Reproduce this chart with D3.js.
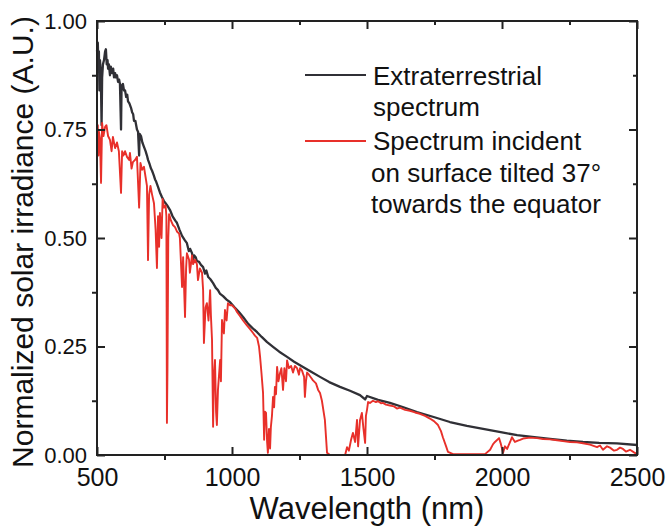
<!DOCTYPE html>
<meta charset="utf-8">
<style>
body { margin: 0; background: #fff; font-family: "Liberation Sans", Arial, sans-serif; }
path.line { fill: none; stroke-width: 2; stroke-linejoin: round; }
path.extra { stroke: #303036; stroke-width: 2.3; }
path.tilt { stroke: #e8302a; stroke-width: 1.9; }
.axis path { display: none; }
.axis line { stroke: #222; stroke-width: 2; }
.axis text { fill: #111; font-family: "Liberation Sans", Arial, sans-serif; }
.frame { fill: none; stroke: #222; stroke-width: 2; }
.title, .legend text { fill: #111; }
</style>
<body>
<script src="https://d3js.org/d3.v7.min.js"></script>
<script>
// Set the dimensions of the canvas / graph
var margin = {top: 21, right: 30, bottom: 73, left: 97},
    width = 667 - margin.left - margin.right,
    height = 528 - margin.top - margin.bottom;

// tick values
var xMajor = [500, 1000, 1500, 2000, 2500];
var xMinor = [750, 1250, 1750, 2250];
var yMajor = [0, 0.25, 0.5, 0.75, 1.0];
var yMinor = [0.125, 0.375, 0.625, 0.875];

// legend labels
var legendExtra = ["Extraterrestrial", "spectrum"];
var legendTilt = ["Spectrum incident", "on surface tilted 37°", "towards the equator"];

// extraterrestrial spectrum [wavelength nm, normalized irradiance]
var extraterrestrial = [
  [500,0.93],[503,0.95],[505,0.90],[507,0.93],[509,0.84],[511,0.91],[514,0.88],[517,0.76],
  [519,0.87],[522,0.90],[526,0.91],[530,0.93],[533,0.935],[536,0.90],[539,0.91],[541,0.89],
  [544,0.90],[548,0.875],[551,0.895],[556,0.88],[560,0.89],[563,0.87],[567,0.88],[570,0.87],
  [574,0.875],[578,0.86],[582,0.865],[585,0.855],[589,0.75],[591,0.85],[596,0.855],[600,0.84],
  [604,0.84],[608,0.825],[612,0.83],[615,0.815],[620,0.81],[626,0.80],[630,0.79],[634,0.785],
  [637,0.77],[642,0.77],[648,0.75],[652,0.745],[656,0.69],[658,0.74],[663,0.735],[668,0.72],
  [674,0.71],[680,0.70],[685,0.69],[689,0.68],[695,0.67],[700,0.66],[704,0.655],[710,0.645],
  [715,0.635],[719,0.63],[726,0.618],[733,0.605],[740,0.595],[748,0.585],[754,0.58],[760,0.575],
  [770,0.565],[780,0.55],[790,0.54],[796,0.535],[805,0.52],[815,0.505],[825,0.495],[833,0.488],
  [840,0.47],[845,0.475],[852,0.465],[856,0.45],[860,0.46],[866,0.455],[870,0.447],[878,0.445],
  [885,0.438],[893,0.433],[900,0.418],[905,0.425],[912,0.41],[920,0.405],[930,0.396],[940,0.385],
  [948,0.38],[955,0.372],[967,0.366],[980,0.358],[993,0.352],[1010,0.34],[1025,0.33],[1041,0.318],
  [1060,0.302],[1075,0.293],[1093,0.283],[1110,0.272],[1130,0.26],[1152,0.249],[1175,0.238],
  [1204,0.226],[1230,0.215],[1263,0.203],[1290,0.193],[1326,0.18],[1360,0.168],[1400,0.157],
  [1437,0.148],[1474,0.138],[1493,0.128],[1500,0.136],[1541,0.127],[1585,0.12],[1635,0.11],
  [1685,0.099],[1750,0.087],[1807,0.076],[1870,0.067],[1930,0.06],[2000,0.052],[2056,0.046],
  [2120,0.041],[2178,0.037],[2240,0.033],[2300,0.030],[2360,0.028],[2426,0.027],[2500,0.023]
];

// spectrum on surface tilted 37 degrees towards the equator
var tilted = [
  [500,0.70],[503,0.76],[505,0.69],[507,0.745],[511,0.73],[515,0.627],[519,0.765],[524,0.735],
  [530,0.756],[535,0.76],[541,0.735],[548,0.726],[554,0.70],[559,0.733],[567,0.707],[574,0.72],
  [581,0.70],[589,0.604],[593,0.70],[598,0.69],[604,0.70],[611,0.687],[619,0.68],[622,0.696],
  [628,0.66],[633,0.675],[641,0.68],[648,0.687],[656,0.57],[661,0.673],[667,0.657],[674,0.664],
  [680,0.64],[685,0.62],[689,0.449],[693,0.60],[698,0.62],[704,0.60],[711,0.58],[717,0.52],
  [722,0.431],[726,0.55],[730,0.48],[733,0.558],[739,0.50],[743,0.59],[748,0.57],[754,0.575],
  [757,0.55],[759,0.074],[761,0.20],[764,0.50],[767,0.555],[774,0.54],[781,0.53],[789,0.525],
  [796,0.515],[804,0.51],[807,0.50],[815,0.387],[819,0.456],[826,0.318],[830,0.43],[833,0.465],
  [841,0.45],[844,0.42],[852,0.46],[856,0.44],[863,0.45],[870,0.44],[874,0.403],[881,0.43],
  [889,0.42],[893,0.38],[896,0.258],[902,0.34],[907,0.35],[913,0.31],[919,0.38],[922,0.32],
  [926,0.265],[930,0.065],[933,0.18],[937,0.219],[941,0.10],[944,0.069],[948,0.15],[956,0.219],
  [959,0.17],[963,0.311],[970,0.28],[974,0.334],[980,0.31],[985,0.35],[993,0.345],[1000,0.345],
  [1011,0.338],[1019,0.329],[1030,0.32],[1041,0.31],[1056,0.298],[1067,0.29],[1078,0.281],
  [1085,0.275],[1093,0.27],[1100,0.25],[1104,0.226],[1109,0.19],[1115,0.143],[1119,0.035],
  [1122,0.10],[1126,0.097],[1130,0.03],[1133,0.005],[1137,0.06],[1141,0.015],[1144,0.065],
  [1148,0.09],[1152,0.134],[1156,0.11],[1159,0.157],[1163,0.14],[1167,0.203],[1172,0.17],
  [1178,0.189],[1183,0.20],[1189,0.15],[1194,0.20],[1200,0.17],[1204,0.218],[1211,0.20],
  [1219,0.205],[1226,0.19],[1233,0.205],[1241,0.20],[1248,0.185],[1252,0.20],[1259,0.195],
  [1267,0.18],[1270,0.134],[1274,0.17],[1278,0.19],[1285,0.185],[1293,0.178],[1300,0.172],
  [1311,0.165],[1319,0.15],[1326,0.143],[1333,0.125],[1344,0.081],[1352,0.005],[1363,0],
  [1419,0],[1426,0.018],[1433,0.01],[1441,0.035],[1448,0.051],[1456,0.03],[1463,0.081],
  [1467,0.02],[1474,0.08],[1481,0.097],[1487,0.06],[1493,0.028],[1496,0.09],[1500,0.104],
  [1504,0.122],[1511,0.12],[1522,0.125],[1533,0.122],[1541,0.124],[1552,0.119],[1559,0.12],
  [1570,0.116],[1585,0.114],[1600,0.112],[1611,0.107],[1622,0.109],[1641,0.104],[1659,0.102],
  [1678,0.098],[1696,0.095],[1715,0.09],[1733,0.084],[1748,0.078],[1763,0.069],[1774,0.055],
  [1781,0.041],[1793,0.02],[1800,0.007],[1819,0.002],[1937,0.002],[1956,0.012],[1967,0.025],
  [1974,0.030],[1989,0.039],[1996,0.025],[2004,0.005],[2011,0.02],[2019,0.014],[2030,0.03],
  [2037,0.041],[2048,0.030],[2059,0.033],[2067,0.035],[2078,0.038],[2104,0.040],[2130,0.039],
  [2152,0.037],[2178,0.036],[2204,0.034],[2226,0.032],[2252,0.030],[2278,0.029],[2300,0.027],
  [2326,0.024],[2352,0.018],[2363,0.022],[2374,0.012],[2389,0.02],[2400,0.017],[2415,0.01],
  [2426,0.012],[2437,0.017],[2448,0.014],[2459,0.008],[2474,0.012],[2489,0.006],[2500,0.002]
];

// Set the ranges
var x = d3.scaleLinear().domain([500, 2500]).range([0, width]);
var y = d3.scaleLinear().domain([0, 1]).range([height, 0]);

var valueline = d3.line()
    .x(function(d) { return x(d[0]); })
    .y(function(d) { return y(d[1]); });

var svg = d3.select("body")
    .append("svg")
        .attr("width", width + margin.left + margin.right)
        .attr("height", height + margin.top + margin.bottom)
    .append("g")
        .attr("transform", "translate(" + margin.left + "," + margin.top + ")");

// the lines
svg.append("path")
    .attr("class", "line extra")
    .attr("d", valueline(extraterrestrial));

svg.append("path")
    .attr("class", "line tilt")
    .attr("d", valueline(tilted));

// axes: major ticks inward, minor ticks outward on bottom/left
svg.append("g")
    .attr("class", "x axis")
    .attr("transform", "translate(0," + height + ")")
    .call(d3.axisBottom(x).tickValues(xMajor).tickSizeInner(-8).tickSizeOuter(0)
        .tickPadding(13).tickFormat(d3.format("d")))
    .selectAll("text").style("font-size", "25px");

svg.append("g")
    .attr("class", "x axis")
    .attr("transform", "translate(0," + height + ")")
    .call(d3.axisBottom(x).tickValues(xMinor).tickSize(5).tickFormat(""));

svg.append("g")
    .attr("class", "x axis")
    .call(d3.axisTop(x).tickValues(xMajor).tickSize(-8).tickFormat(""));

svg.append("g")
    .attr("class", "x axis")
    .call(d3.axisTop(x).tickValues(xMinor).tickSize(-4).tickFormat(""));

svg.append("g")
    .attr("class", "y axis")
    .call(d3.axisLeft(y).tickValues(yMajor).tickSizeInner(-8).tickSizeOuter(0)
        .tickPadding(10).tickFormat(d3.format(".2f")))
    .selectAll("text").style("font-size", "22px");

svg.append("g")
    .attr("class", "y axis")
    .call(d3.axisLeft(y).tickValues(yMinor).tickSize(5).tickFormat(""));

svg.append("g")
    .attr("class", "y axis")
    .attr("transform", "translate(" + width + ",0)")
    .call(d3.axisRight(y).tickValues(yMajor).tickSize(-8).tickFormat(""));

svg.append("g")
    .attr("class", "y axis")
    .attr("transform", "translate(" + width + ",0)")
    .call(d3.axisRight(y).tickValues(yMinor).tickSize(-4).tickFormat(""));

svg.append("rect")
    .attr("class", "frame")
    .attr("width", width)
    .attr("height", height);

// axis titles
svg.append("text")
    .attr("class", "title")
    .attr("x", width / 2)
    .attr("y", height + 64)
    .attr("text-anchor", "middle")
    .style("font-size", "31px")
    .text("Wavelength (nm)");

svg.append("text")
    .attr("class", "title")
    .attr("transform", "translate(" + (33 - margin.left) + "," + (242 - margin.top) + ") rotate(-90)")
    .attr("text-anchor", "middle")
    .style("font-size", "30px")
    .text("Normalized solar irradiance (A.U.)");

// legend
var legend = svg.append("g")
    .attr("class", "legend")
    .attr("transform", "translate(" + (305 - margin.left) + "," + (75 - margin.top) + ")");

legend.append("line")
    .attr("x1", 0).attr("x2", 61).attr("y1", 0).attr("y2", 0)
    .style("stroke", "#303036").style("stroke-width", 2);
legend.append("line")
    .attr("x1", 0).attr("x2", 61).attr("y1", 66).attr("y2", 66)
    .style("stroke", "#e8302a").style("stroke-width", 2);

legend.selectAll("text.e")
    .data(legendExtra)
  .enter().append("text")
    .attr("class", "e")
    .attr("x", 68)
    .attr("y", function(d, i) { return 10 + i * 31; })
    .style("font-size", "26px")
    .text(function(d) { return d; });

legend.selectAll("text.t")
    .data(legendTilt)
  .enter().append("text")
    .attr("class", "t")
    .attr("x", function(d, i) { return i === 0 ? 68 : 66; })
    .attr("y", function(d, i) { return 75 + i * 31.5; })
    .style("font-size", "26px")
    .text(function(d) { return d; });
</script>
</body>
